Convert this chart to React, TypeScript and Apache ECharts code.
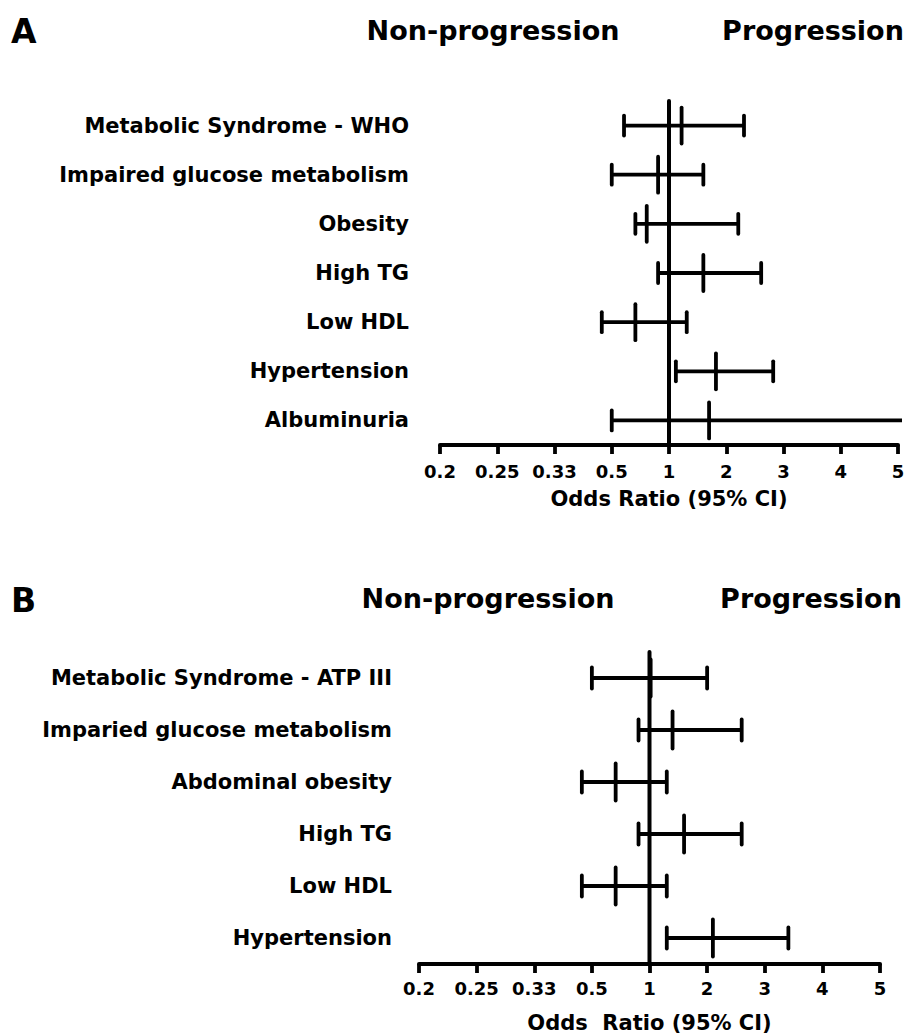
import React, { useEffect, useRef } from "react";
import * as echarts from "echarts";

const tickLabels = ["0.2", "0.25", "0.33", "0.5", "1", "2", "3", "4", "5"];

const catsA = [
  "Metabolic Syndrome - WHO",
  "Impaired glucose metabolism",
  "Obesity",
  "High TG",
  "Low HDL",
  "Hypertension",
  "Albuminuria",
];
const orA = [1.22, 0.84, 0.72, 1.6, 0.63, 1.82, 1.7];
const loA = [0.56, 0.5, 0.63, 0.84, 0.46, 1.12, 0.5];
const hiA = [2.31, 1.6, 2.21, 2.61, 1.31, 2.82, 5.07];

const catsB = [
  "Metabolic Syndrome - ATP III",
  "Imparied glucose metabolism",
  "Abdominal obesity",
  "High TG",
  "Low HDL",
  "Hypertension",
];
const orB = [1.02, 1.4, 0.63, 1.6, 0.63, 2.1];
const loB = [0.5, 0.84, 0.46, 0.84, 0.46, 1.3];
const hiB = [2.0, 2.6, 1.3, 2.6, 1.3, 3.41];

const refValue = 1;

// symmetric odds-ratio scale: 1/x mirrored below 1
const toAxis = (v: number) => (v >= 1 ? v - 1 : 1 - 1 / v);

const FONT = "DejaVu Sans";

function buildData(or: number[], lo: number[], hi: number[]) {
  return or.map((v, i) => [toAxis(lo[i]), toAxis(v), toAxis(hi[i]), i, hi[i]]);
}

function makeRender(capH: number, markH: number) {
  return (params: any, api: any) => {
    const idx = api.value(3);
    const p1 = api.coord([api.value(0), idx]);
    const pm = api.coord([api.value(1), idx]);
    const p2 = api.coord([api.value(2), idx]);
    const truncated = api.value(4) > 5;
    const st = { stroke: "#000", lineWidth: 3.8, lineCap: "round" };
    const children: any[] = [
      { type: "line", shape: { x1: p1[0], y1: p1[1], x2: p2[0], y2: p2[1] }, style: { ...st, lineCap: "butt" } },
      { type: "line", shape: { x1: p1[0], y1: p1[1] - capH, x2: p1[0], y2: p1[1] + capH }, style: st },
      { type: "line", shape: { x1: pm[0], y1: pm[1] - markH, x2: pm[0], y2: pm[1] + markH }, style: st },
    ];
    if (!truncated) {
      children.push({ type: "line", shape: { x1: p2[0], y1: p2[1] - capH, x2: p2[0], y2: p2[1] + capH }, style: st });
    }
    return { type: "group", children };
  };
}

function renderRef(params: any, api: any) {
  const cs = params.coordSys;
  const p = api.coord([api.value(0), 0]);
  return {
    type: "line",
    shape: { x1: p[0], y1: cs.y, x2: p[0], y2: cs.y + cs.height },
    style: { stroke: "#000", lineWidth: 4, lineCap: "round" },
  };
}

function xAxisCfg(gridIndex: number, name: string, margin: number, nameGap: number) {
  return {
    gridIndex,
    type: "value",
    min: -4,
    max: 4,
    interval: 1,
    name,
    nameLocation: "middle",
    nameGap,
    nameTextStyle: { fontFamily: FONT, fontWeight: "bold", fontSize: 21, color: "#000" },
    axisLine: { show: true, onZero: false, lineStyle: { color: "#000", width: 4 } },
    axisTick: { show: true, length: 9, lineStyle: { color: "#000", width: 3.8 } },
    axisLabel: {
      margin,
      fontFamily: FONT,
      fontWeight: "bold",
      fontSize: 18,
      color: "#000",
      formatter: (v: number) => tickLabels[Math.round(v) + 4],
    },
    splitLine: { show: false },
  };
}

function yAxisCfg(gridIndex: number, cats: string[], margin: number) {
  return {
    gridIndex,
    type: "category",
    data: cats,
    inverse: true,
    axisLine: { show: false },
    axisTick: { show: false },
    axisLabel: { margin, fontFamily: FONT, fontWeight: "bold", fontSize: 21, color: "#000" },
    splitLine: { show: false },
  };
}

const headText = (text: string, x: number, y: number, size: number, align: string) => ({
  type: "text",
  x,
  y,
  style: {
    text,
    fill: "#000",
    fontFamily: FONT,
    fontWeight: "bold",
    fontSize: size,
    align,
    verticalAlign: "middle",
  },
});

export default function App() {
  const ref = useRef<HTMLDivElement>(null);
  useEffect(() => {
    if (!ref.current) return;
    const chart = echarts.init(ref.current, undefined, { renderer: "svg" });
    chart.setOption({
      animation: false,
      backgroundColor: "#fff",
      textStyle: { fontFamily: FONT },
      grid: [
        { left: 440, right: 9, top: 101, height: 344, containLabel: false, outerBoundsMode: "none" },
        { left: 419, right: 27, top: 652, height: 312, containLabel: false, outerBoundsMode: "none" },
      ],
      xAxis: [xAxisCfg(0, "Odds Ratio (95% CI)", 17, 43), xAxisCfg(1, "Odds  Ratio (95% CI)", 15, 48)],
      yAxis: [yAxisCfg(0, catsA, 31), yAxisCfg(1, catsB, 27)],
      series: [
        {
          type: "custom",
          xAxisIndex: 0,
          yAxisIndex: 0,
          clip: false,
          renderItem: renderRef,
          data: [[toAxis(refValue), 0]],
          encode: { x: 0, y: 1 },
          z: 2,
        },
        {
          type: "custom",
          xAxisIndex: 1,
          yAxisIndex: 1,
          clip: false,
          renderItem: renderRef,
          data: [[toAxis(refValue), 0]],
          encode: { x: 0, y: 1 },
          z: 2,
        },
        {
          type: "custom",
          xAxisIndex: 0,
          yAxisIndex: 0,
          clip: false,
          renderItem: makeRender(10, 18),
          data: buildData(orA, loA, hiA),
          encode: { x: [0, 1, 2], y: 3 },
          z: 3,
        },
        {
          type: "custom",
          xAxisIndex: 1,
          yAxisIndex: 1,
          clip: false,
          renderItem: makeRender(10.5, 18.5),
          data: buildData(orB, loB, hiB),
          encode: { x: [0, 1, 2], y: 3 },
          z: 3,
        },
      ],
      graphic: [
        headText("A", 11, 31, 33, "left"),
        headText("Non-progression", 493, 30, 27, "center"),
        headText("Progression", 813, 30, 27, "center"),
        headText("B", 11, 600, 33, "left"),
        headText("Non-progression", 488, 598, 27, "center"),
        headText("Progression", 811, 598, 27, "center"),
      ],
    });
    return () => chart.dispose();
  }, []);
  return (
    <div
      ref={ref}
      style={{ position: "absolute", left: 0, top: 0, width: 907, height: 1034, background: "#fff" }}
    />
  );
}
